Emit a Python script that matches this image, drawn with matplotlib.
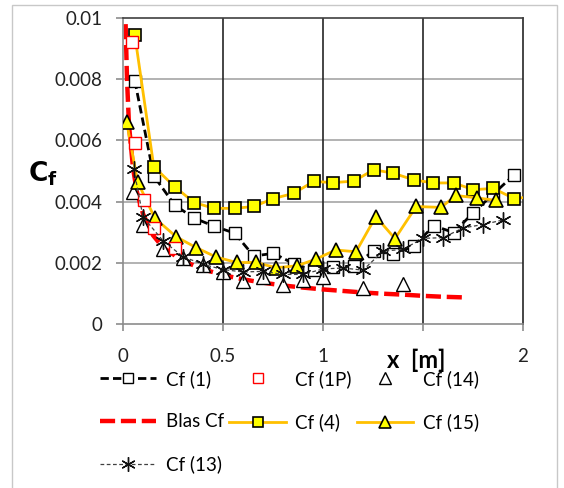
import matplotlib.pyplot as plt
from matplotlib.patches import Rectangle

plt.rcParams['font.family'] = ['Lato', 'DejaVu Sans']

# Cf(1) open squares, black dashed
x1 = [0.059, 0.154, 0.259, 0.356, 0.454, 0.558, 0.654, 0.752, 0.854, 0.953, 1.051, 1.155,
      1.253, 1.351, 1.453, 1.555, 1.653, 1.752, 1.852, 1.955]
y1 = [0.00795, 0.00484, 0.00388, 0.00346, 0.00320, 0.00297, 0.00222, 0.00231, 0.00197, 0.00175,
      0.00185, 0.00190, 0.00239, 0.00228, 0.00255, 0.00321, 0.00299, 0.00364, 0.00425, 0.00487]

# Cf(1P) red open squares
x1p = [0.045, 0.059, 0.107, 0.157, 0.259]
y1p = [0.00923, 0.00590, 0.00405, 0.00314, 0.00250]

# Cf(14) open triangles
x14 = [0.05, 0.1, 0.2, 0.3, 0.4, 0.5, 0.6, 0.7, 0.8, 0.9, 1.0, 1.2, 1.4]
y14 = [0.00430, 0.00325, 0.00245, 0.00215, 0.00192, 0.00170, 0.00142, 0.00155, 0.00128,
       0.00145, 0.00153, 0.00117, 0.00130]

# Blasius Cf
xb = [0.013, 0.02, 0.03, 0.05, 0.07, 0.1, 0.15, 0.2, 0.3, 0.4, 0.5, 0.6, 0.7, 0.8, 0.9,
      1.0, 1.1, 1.2, 1.3, 1.4, 1.5, 1.6, 1.7]
yb = [0.0098, 0.0080, 0.0065, 0.0051, 0.0043, 0.0036, 0.0029, 0.0025, 0.00206, 0.00179,
      0.0016, 0.00146, 0.00135, 0.00126, 0.00119, 0.00113, 0.00108, 0.00103, 0.00099,
      0.00096, 0.00092, 0.00089, 0.00087]

# Cf(4) yellow squares
x4 = [0.059, 0.154, 0.259, 0.356, 0.454, 0.558, 0.654, 0.752, 0.854, 0.953, 1.051, 1.155,
      1.253, 1.351, 1.453, 1.551, 1.653, 1.752, 1.852, 1.955, 2.0]
y4 = [0.00944, 0.00514, 0.00448, 0.00397, 0.00378, 0.00378, 0.00384, 0.00410, 0.00427,
      0.00466, 0.00462, 0.00467, 0.00504, 0.00493, 0.00471, 0.00461, 0.00461, 0.00439,
      0.00443, 0.00410, 0.00413]

# Cf(15) yellow triangles
x15 = [0.018, 0.073, 0.159, 0.266, 0.365, 0.465, 0.568, 0.665, 0.765, 0.869, 0.965, 1.063,
       1.165, 1.264, 1.360, 1.466, 1.590, 1.665, 1.770, 1.865]
y15 = [0.00661, 0.00465, 0.00346, 0.00285, 0.00250, 0.00219, 0.00201, 0.00201, 0.00184,
       0.00190, 0.00212, 0.00242, 0.00236, 0.00351, 0.00279, 0.00384, 0.00381, 0.00420,
       0.00412, 0.00404]

# Cf(13) asterisks
x13 = [0.054, 0.1, 0.2, 0.3, 0.4, 0.5, 0.6, 0.7, 0.8, 0.9, 1.0, 1.1, 1.2, 1.3, 1.4, 1.5,
       1.6, 1.7, 1.8, 1.9]
y13 = [0.00506, 0.00350, 0.00272, 0.00220, 0.00195, 0.00178, 0.00170, 0.00172, 0.00162,
       0.00162, 0.00180, 0.00183, 0.00176, 0.00238, 0.00244, 0.00280, 0.00282, 0.00314,
       0.00325, 0.00340]

xticks = [0, 0.5, 1, 1.5, 2]
xtick_labels = ['0', '0.5', '1', '', '2']   # 1.5 is hidden under the axis title
yticks = [0, 0.002, 0.004, 0.006, 0.008, 0.01]
ytick_labels = ['0', '0.002', '0.004', '0.006', '0.008', '0.01']

fig = plt.figure(figsize=(5.64, 4.88), dpi=100)
fig.patches.append(Rectangle((12/564, -0.02), 545/564, 1.02 - 5/488, transform=fig.transFigure,
                             fill=False, ec='#c8c8c8', lw=1.0))
ax = fig.add_axes([123/564, 164/488, 400/564, 306/488])
ax.set_xlim(0, 2)
ax.set_ylim(0, 0.01)

for v in [0.002, 0.004, 0.006, 0.008]:
    ax.axhline(v, color='#a6a6a6', lw=1.2, zorder=1)
for v in [0.5, 1, 1.5]:
    ax.axvline(v, color='#262626', lw=1.2, zorder=1)

ax.spines['left'].set_color('#8c8c8c')
ax.spines['bottom'].set_color('#8c8c8c')
ax.spines['top'].set_color('#404040')
ax.spines['right'].set_color('#262626')
for s in ax.spines.values():
    s.set_linewidth(1.2)

ax.set_xticks(xticks)
ax.set_xticklabels(xtick_labels)
ax.set_yticks(yticks)
ax.set_yticklabels(ytick_labels)
ax.tick_params(length=5, width=1.2, color='#8c8c8c', labelsize=13.5, labelcolor='#222222')
ax.tick_params(axis='y', pad=10)
ax.tick_params(axis='x', pad=12)

h1, = ax.plot(x1, y1, color='black', lw=2, ls=(0, (3, 1.5)), marker='s', ms=8,
              mfc='white', mec='black', mew=1.0, zorder=3, label='Cf (1)')
hb, = ax.plot(xb, yb, color='#ff0000', lw=3.2, ls=(0, (3.4, 1.3)), zorder=2.5, label='Blas Cf')
h14, = ax.plot(x14, y14, ls='none', marker='^', ms=10, mfc='white', mec='black', mew=1.0,
               zorder=3.5, label='Cf (14)')
h4, = ax.plot(x4, y4, color='#ffc000', lw=2, marker='s', ms=8, mfc='#ffff00', mec='black',
              mew=1.2, zorder=4, markevery=list(range(len(x4) - 1)), label='Cf (4)')
h15, = ax.plot(x15, y15, color='#ffc000', lw=2, marker='^', ms=9.5, mfc='#ffff00', mec='black',
               mew=1.2, zorder=4.5, label='Cf (15)')
h1p, = ax.plot(x1p, y1p, ls='none', marker='s', ms=8, mfc='white', mec='#ff0000', mew=1.0,
               zorder=5, label='Cf (1P)')
h13, = ax.plot(x13, y13, color='#404040', lw=0.9, ls=(0, (3, 2)), marker=(6, 2, 0), ms=11.5,
               mec='#111111', mew=1.0, zorder=6, label='Cf (13)')

fig.text(28/564, 1 - 174/488, r'$\mathbf{C}_\mathbf{f}$', fontsize=19, ha='left', va='center')
fig.text(416/564, 1 - 360/488, 'x  [m]', fontsize=17, fontweight='bold', ha='center', va='center')

handles = [h1, hb, h13, h1p, h4, h14, h15]
fig.legend(handles=handles, labels=[h.get_label() for h in handles], ncol=3, frameon=False,
           loc='upper left', bbox_to_anchor=(100/564, 1 - 370/488), fontsize=13.5,
           handlelength=3.0, handletextpad=0.5, columnspacing=0.3, labelspacing=1.35,
           markerscale=0.9, borderpad=0, borderaxespad=0)

fig.savefig('out.png', dpi=100)
